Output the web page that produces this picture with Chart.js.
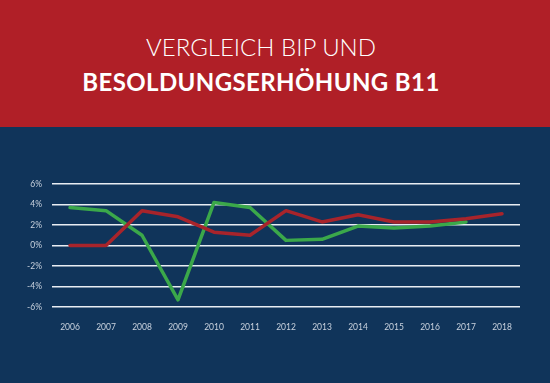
<!DOCTYPE html>
<html>
<head>
<meta charset="utf-8">
<script src="https://cdn.jsdelivr.net/npm/chart.js@4"></script>
<style>
  html, body { margin: 0; padding: 0; }
  body { width: 550px; height: 383px; background: #10345a; overflow: hidden; position: relative; }
  #kopf { position: absolute; left: 0; top: 0; width: 550px; height: 127px; background: #b01f27; color: #fff; text-align: center; font-family: Lato, "Open Sans", sans-serif; }
  #kopf .z1 { position: absolute; left: 0; width: 522px; top: 32px; font-size: 24px; font-weight: 300; }
  #kopf .z2 { position: absolute; left: 0; width: 522px; top: 67px; font-size: 24px; font-weight: 700; letter-spacing: 0.4px; }
  #box { position: absolute; left: 0; top: 127px; width: 550px; height: 256px; }
</style>
</head>
<body>
<div id="kopf">
  <div class="z1">VERGLEICH BIP UND</div>
  <div class="z2">BESOLDUNGSERHÖHUNG B11</div>
</div>
<div id="box"><canvas id="lineChart" width="550" height="256"></canvas></div>
<script>
// Jahre auf der x-Achse
var jahre = ['2006', '2007', '2008', '2009', '2010', '2011', '2012', '2013', '2014', '2015', '2016', '2017', '2018'];
// BIP-Wachstum in % (gruen)
var bip = [3.7, 3.4, 1.0, -5.3, 4.2, 3.7, 0.5, 0.6, 1.9, 1.7, 1.9, 2.3, null];
// Besoldungserhoehung B11 in % (rot)
var besoldung = [0, 0, 3.4, 2.8, 1.3, 1.0, 3.4, 2.3, 3.0, 2.3, 2.3, 2.6, 3.1];

var ctx = document.getElementById('lineChart').getContext('2d');
var chart = new Chart(ctx, {
    type: 'line',
    data: {
        labels: jahre,
        datasets: [{
            label: 'Besoldungserhöhung B11',
            data: besoldung,
            borderColor: '#a8242b',
            borderWidth: 3.5,
            pointRadius: 0,
            tension: 0,
            borderJoinStyle: 'round',
            borderCapStyle: 'round'
        }, {
            label: 'BIP',
            data: bip,
            borderColor: '#3ba84a',
            borderWidth: 3.5,
            pointRadius: 0,
            tension: 0,
            borderJoinStyle: 'round',
            borderCapStyle: 'round'
        }]
    },
    options: {
        responsive: false,
        animation: false,
        layout: { padding: { top: 57, right: 30, left: 0, bottom: 0 } },
        plugins: { legend: { display: false }, tooltip: { enabled: false } },
        scales: {
            x: {
                offset: true,
                grid: { display: false },
                border: { display: false },
                ticks: { color: '#c9d2de', font: { family: 'Lato', size: 8.5 }, padding: 7, maxRotation: 0 },
                afterFit: function (s) { s.height = 76; }
            },
            y: {
                min: -6, max: 6,
                grid: { color: '#e8edf3', lineWidth: 1.6, drawTicks: false },
                border: { display: false },
                ticks: {
                    stepSize: 2, color: '#c9d2de', padding: 10,
                    font: { family: 'Lato', size: 8.5 },
                    callback: function (v) { return v + '%'; }
                },
                afterFit: function (s) { s.width = 52; }
            }
        }
    }
});
</script>
</body>
</html>
